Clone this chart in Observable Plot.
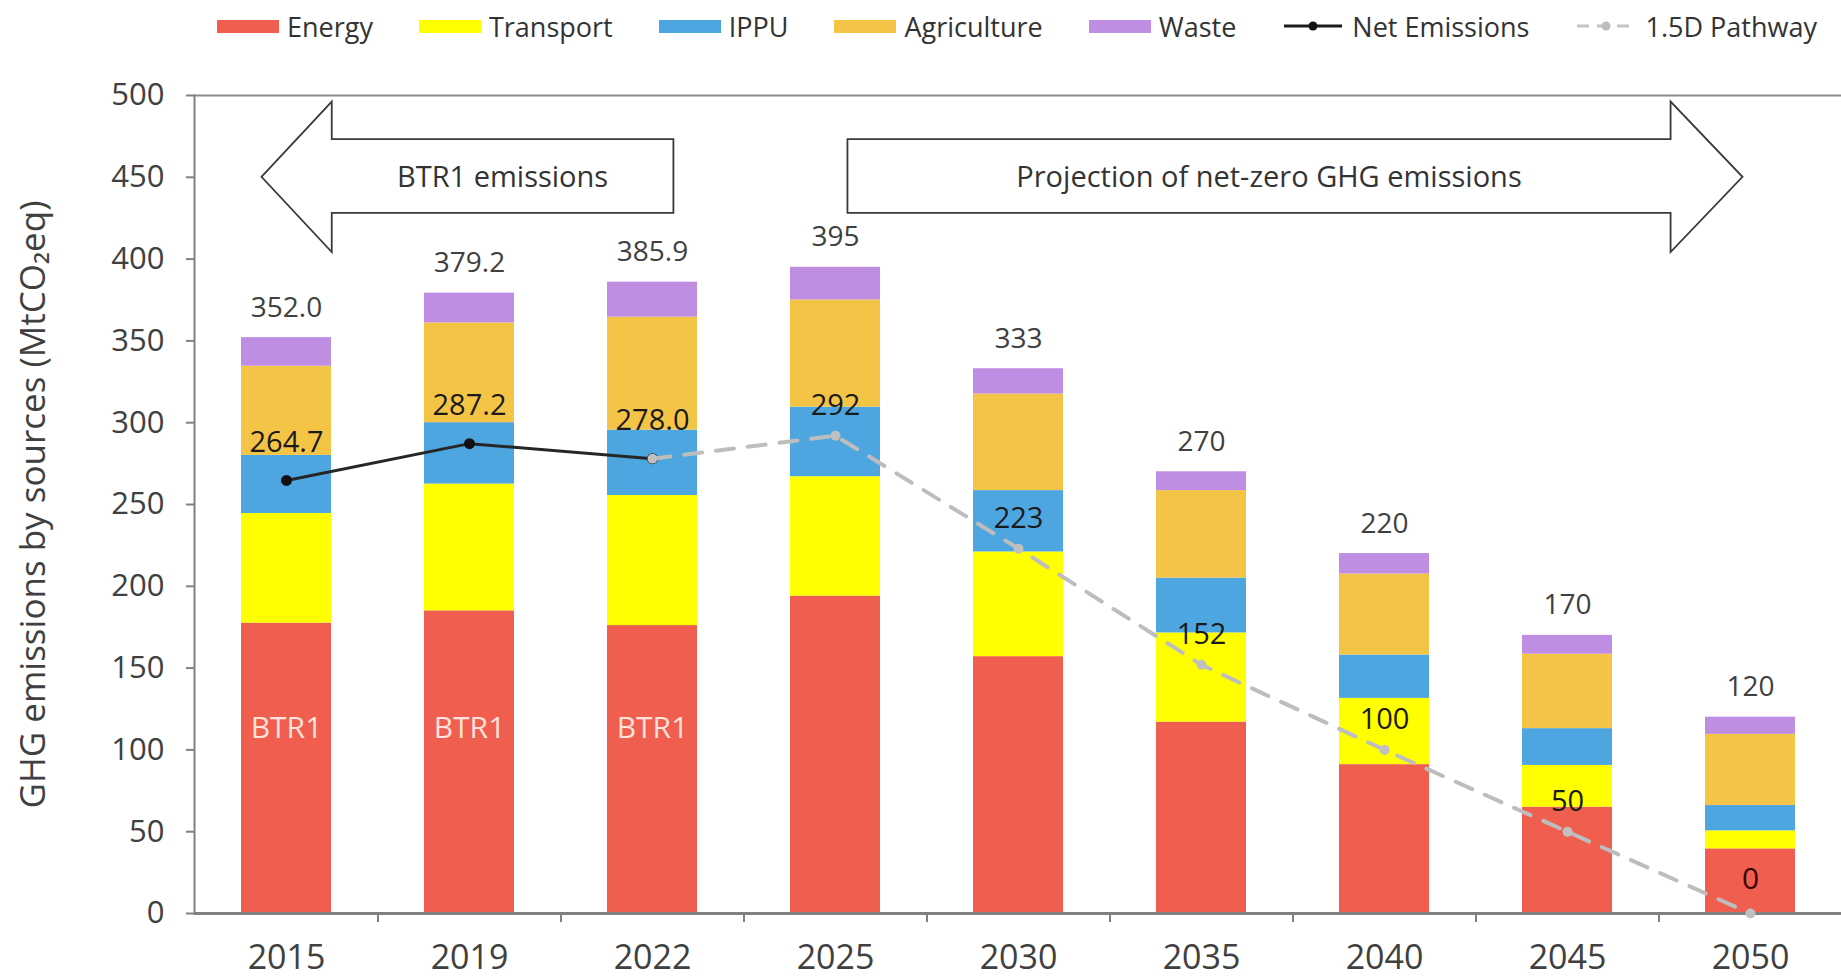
<!DOCTYPE html>
<html>
<head>
<meta charset="utf-8">
<script src="https://cdn.jsdelivr.net/npm/d3@7"></script>
<script src="https://cdn.jsdelivr.net/npm/@observablehq/plot@0.6"></script>
<style>
html,body{margin:0;padding:0;background:#fff;overflow:hidden;}
body{font-family:"Open Sans",sans-serif;}
#legend{display:flex;align-items:center;height:52px;padding-left:217px;gap:46px;font-size:27px;color:#333;box-sizing:border-box;white-space:nowrap;}
#legend .item{display:flex;align-items:center;gap:8px;}
#legend .sw{width:62px;height:13px;display:inline-block;}
#legend svg{display:block;}
</style>
</head>
<body>
<div id="legend"></div>
<div id="chart"></div>
<script>
// ---- data ----
const years = ["2015", "2019", "2022", "2025", "2030", "2035", "2040", "2045", "2050"];
const sectors = ["Energy", "Transport", "IPPU", "Agriculture", "Waste"];
const sectorColors = ["#EF5E4F", "#FFFF00", "#4DA6E0", "#F4C447", "#BF8EE2"];
const energy = [177.5, 185, 176, 194, 157, 117, 91, 65, 39.5];
const transport = [67, 77.5, 79.5, 73, 64, 54.5, 40.5, 25.5, 11];
const ippu = [35.5, 37.5, 40, 42.5, 37.5, 33.5, 26.5, 22.5, 15.5];
const agriculture = [54.5, 61, 69, 65.5, 59, 53.5, 49.5, 45.5, 43.5];
const waste = [17.5, 18.2, 21.4, 20, 15.5, 11.5, 12.5, 11.5, 10.5];
const totals = [352.0, 379.2, 385.9, 395, 333, 270, 220, 170, 120];
const totalLabels = ["352.0", "379.2", "385.9", "395", "333", "270", "220", "170", "120"];
const netYears = ["2015", "2019", "2022"];
const netValues = [264.7, 287.2, 278.0];
const netLabels = ["264.7", "287.2", "278.0"];
const pathYears = ["2022", "2025", "2030", "2035", "2040", "2045", "2050"];
const pathValues = [278.0, 292, 223, 152, 100, 50, 0];
const pathLabels = ["", "292", "223", "152", "100", "50", "0"];
const btrYears = ["2015", "2019", "2022"];
const yTicks = [0, 50, 100, 150, 200, 250, 300, 350, 400, 450, 500];
const yTitle = "GHG emissions by sources (MtCO\u2082eq)";
const arrowLeftText = "BTR1 emissions";
const arrowRightText = "Projection of net-zero GHG emissions";

// ---- tables ----
const series = [energy, transport, ippu, agriculture, waste];
const stacked = [];
sectors.forEach((s, k) => years.forEach((y, i) => stacked.push({year: y, sector: s, value: series[k][i]})));
const totalData = years.map((y, i) => ({year: y, value: totals[i], label: totalLabels[i]}));
const netData = netYears.map((y, i) => ({year: y, value: netValues[i], label: netLabels[i]}));
const pathData = pathYears.map((y, i) => ({year: y, value: pathValues[i], label: pathLabels[i]}));

// ---- legend ----
const legend = document.getElementById("legend");
sectors.forEach((s, k) => {
  const it = document.createElement("div"); it.className = "item";
  it.innerHTML = `<span class="sw" style="background:${sectorColors[k]}"></span><span>${s}</span>`;
  legend.appendChild(it);
});
const lineItems = [
  {name: "Net Emissions", stroke: "#1a1a1a", dash: "", dot: "#111"},
  {name: "1.5D Pathway", stroke: "#c4c4c4", dash: "12,8", dot: "#bdbdbd"}
];
lineItems.forEach(d => {
  const it = document.createElement("div"); it.className = "item";
  it.innerHTML = `<svg width="62" height="16"><line x1="2" x2="60" y1="8" y2="8" stroke="${d.stroke}" stroke-width="3" ${d.dash ? `stroke-dasharray="${d.dash}"` : ""}/><circle cx="31" cy="8" r="4.5" fill="${d.dot}"/></svg><span>${d.name}</span>`;
  legend.appendChild(it);
});

// ---- layout ----
const W = 1841, H = 928, mL = 194, mR = 0, mT = 43, mB = 67;
const padInner = 0.51, padOuter = 0.255;
const step = (W - mL - mR) / (years.length - padInner + 2 * padOuter);

// ---- arrows (annotation, placed via scales) ----
function arrows(index, scales) {
  const x = scales.x, y = scales.y;
  const bw = typeof x.bandwidth === "function" ? x.bandwidth() : (x.bandwidth || 0);
  const st = x(years[1]) - x(years[0]);
  const c = (yr) => x(yr) + bw / 2;
  const g = d3.create("svg:g");
  const yHt = y(496), yST = y(473), yC = y(450), ySB = y(428), yHb = y(404);
  const lTip = c("2015") - 0.134 * st, lBase = c("2015") + 0.25 * st, lEnd = c("2022") + 0.117 * st;
  const left = [[lTip, yC], [lBase, yHt], [lBase, yST], [lEnd, yST], [lEnd, ySB], [lBase, ySB], [lBase, yHb]];
  const rStart = c("2025") + 0.068 * st, rBase = c("2045") + 0.566 * st, rTip = c("2045") + 0.959 * st;
  const right = [[rStart, yST], [rBase, yST], [rBase, yHt], [rTip, yC], [rBase, yHb], [rBase, ySB], [rStart, ySB]];
  for (const pts of [left, right]) {
    g.append("path").attr("d", "M" + pts.map(p => p.join(",")).join("L") + "Z")
      .attr("fill", "#fff").attr("stroke", "#3a3a3a").attr("stroke-width", 1.8);
  }
  g.append("text").attr("x", (lBase + lEnd) / 2).attr("y", yC).attr("dy", "0.35em")
    .attr("text-anchor", "middle").attr("font-size", 29).attr("fill", "#333").text(arrowLeftText);
  g.append("text").attr("x", (rStart + rBase) / 2 + 10).attr("y", yC).attr("dy", "0.35em")
    .attr("text-anchor", "middle").attr("font-size", 29).attr("fill", "#333").text(arrowRightText);
  return g.node();
}

const chart = Plot.plot({
  width: W, height: H,
  marginLeft: mL, marginRight: mR, marginTop: mT, marginBottom: mB,
  style: {fontFamily: "'Open Sans', sans-serif", fontSize: "28px", color: "#404040", background: "#fff", overflow: "visible"},
  x: {type: "band", domain: years, paddingInner: padInner, paddingOuter: padOuter},
  y: {domain: [0, 500]},
  color: {domain: sectors, range: sectorColors},
  marks: [
    Plot.barY(stacked, {x: "year", y: "value", fill: "sector"}),
    Plot.ruleY([500], {stroke: "#8a8a8a", strokeWidth: 2}),
    Plot.frame({anchor: "left", stroke: "#808080", strokeWidth: 2}),
    Plot.ruleX(years.slice(1), {x: d => d, y1: 0, y2: 0, insetBottom: -9, dx: -step / 2, stroke: "#808080", strokeWidth: 2}),
    Plot.ruleY([0], {stroke: "#808080", strokeWidth: 3}),
    Plot.axisY({ticks: yTicks, tickSize: 8, tickPadding: 22, fontSize: 31, stroke: "#808080", strokeWidth: 2, fill: "#404040", label: null}),
    Plot.axisX({tickSize: 0, tickPadding: 31, fontSize: 34, fill: "#404040", label: null}),
    Plot.text([yTitle], {frameAnchor: "left", rotate: -90, dx: -161, fontSize: 35, fill: "#404040", textAnchor: "middle", lineAnchor: "middle"}),
    Plot.text(btrYears, {x: d => d, y: 113, text: () => "BTR1", fontSize: 30, fill: "#FFE3DC"}),
    Plot.line(netData, {x: "year", y: "value", stroke: "#262626", strokeWidth: 3}),
    Plot.dot(netData, {x: "year", y: "value", r: 5.5, fill: "#111", stroke: null}),
    Plot.line(pathData, {x: "year", y: "value", stroke: "#bdbdbd", strokeWidth: 4, strokeDasharray: "18,14"}),
    Plot.dot(pathData, {x: "year", y: "value", r: 5, fill: "#c0c0c0", stroke: null}),
    Plot.text(totalData, {x: "year", y: "value", text: "label", dy: -30, fontSize: 28, fill: "#404040"}),
    Plot.text(netData, {x: "year", y: "value", text: "label", dy: -38, fontSize: 29, fill: "#1a1a1a"}),
    Plot.text(pathData.filter(d => d.value > 0), {x: "year", y: "value", text: "label", dy: -30, fontSize: 29, fill: "#1a1a1a"}),
    Plot.text(pathData.filter(d => d.value === 0), {x: "year", y: "value", text: "label", dy: -34, fontSize: 30, fill: "#3a0000"}),
    arrows
  ]
});
document.getElementById("chart").appendChild(chart);
</script>
</body>
</html>
